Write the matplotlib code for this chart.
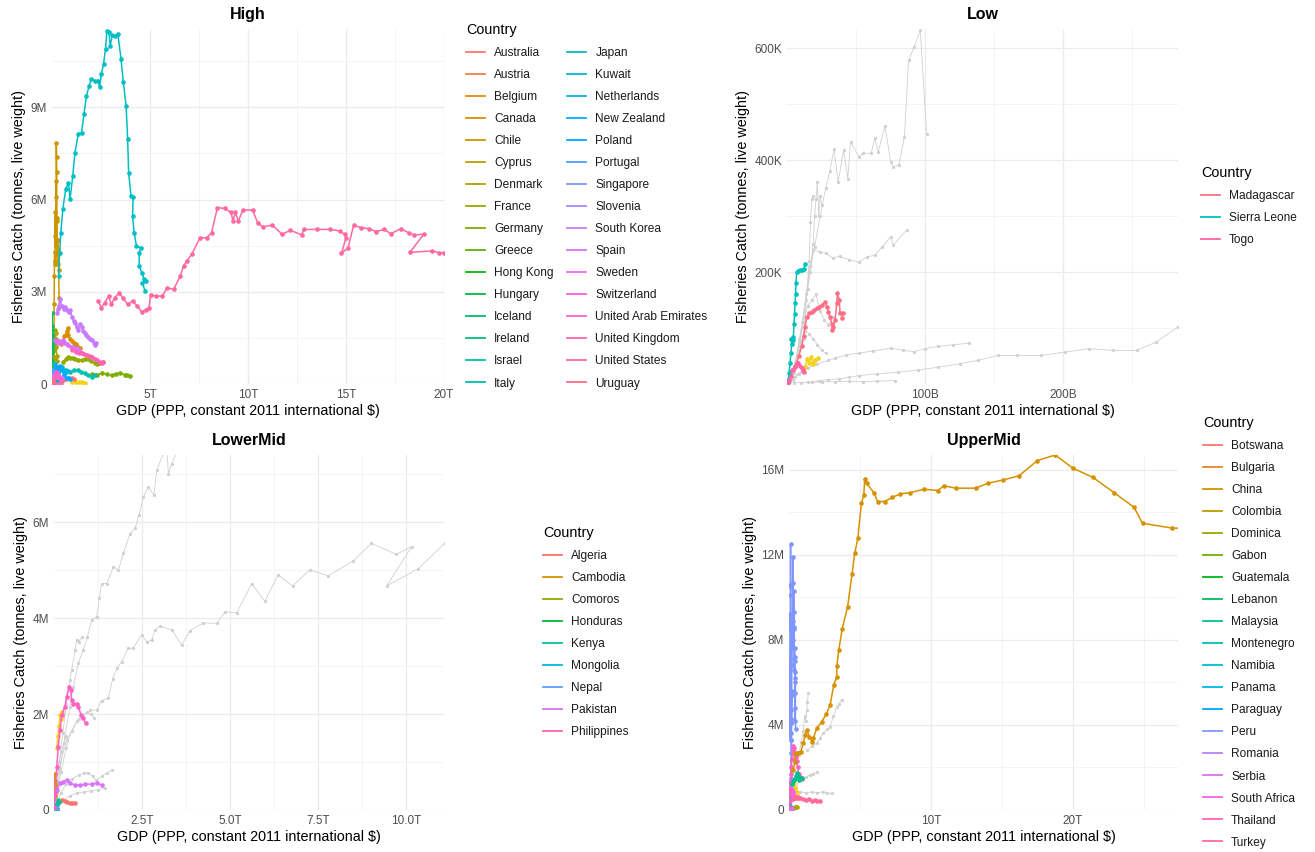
import numpy as np
import matplotlib
matplotlib.use("Agg")
import matplotlib.pyplot as plt
from matplotlib.lines import Line2D
from matplotlib.ticker import FixedLocator

plt.rcParams['font.family'] = ['Liberation Sans', 'DejaVu Sans']

# ----------------------------------------------------------------------------------
# DATA  (High / LowerMid / UpperMid: GDP in trillion $, catch in million tonnes;
#        Low: GDP in billion $, catch in thousand tonnes)
# ----------------------------------------------------------------------------------
high_countries = ["Australia", "Austria", "Belgium", "Canada", "Chile", "Cyprus", "Denmark",
                  "France", "Germany", "Greece", "Hong Kong", "Hungary", "Iceland", "Ireland",
                  "Israel", "Italy", "Japan", "Kuwait", "Netherlands", "New Zealand", "Poland",
                  "Portugal", "Singapore", "Slovenia", "South Korea", "Spain", "Sweden",
                  "Switzerland", "United Arab Emirates", "United Kingdom", "United States", "Uruguay"]

high_australia = [(0.40, 0.10), (0.55, 0.13), (0.70, 0.17), (0.85, 0.20), (1.00, 0.18), (1.10, 0.16)]
high_austria = [(0.20, 0.001), (0.40, 0.001)]
high_belgium = [(0.15, 0.05), (0.25, 0.04), (0.35, 0.03), (0.45, 0.02)]
high_canada = [(0.45, 1.30), (0.55, 1.40), (0.62, 1.55), (0.70, 1.60), (0.76, 1.72), (0.80, 1.83),
               (0.84, 1.60), (0.90, 1.45), (1.00, 1.40), (1.10, 1.35), (1.20, 1.30), (1.30, 1.25), (1.43, 1.17)]
high_chile = [(0.04, 0.40), (0.05, 0.60), (0.06, 0.90), (0.07, 1.20), (0.08, 1.10), (0.09, 0.80), (0.10, 1.30),
              (0.11, 2.60), (0.12, 3.50), (0.13, 4.30), (0.14, 4.00), (0.15, 3.90), (0.16, 4.80), (0.17, 5.60),
              (0.18, 4.50), (0.19, 5.30), (0.20, 6.60), (0.21, 6.10), (0.22, 7.85), (0.23, 7.40), (0.24, 6.90),
              (0.25, 5.40), (0.26, 5.30), (0.27, 4.20), (0.28, 3.90), (0.29, 4.70), (0.30, 3.90), (0.32, 4.40),
              (0.34, 3.70), (0.36, 2.80), (0.38, 2.50)]
high_cyprus = [(0.01, 0.001), (0.02, 0.002), (0.03, 0.002)]
high_denmark = [(0.10, 0.85), (0.12, 1.10), (0.14, 1.40), (0.16, 1.75), (0.18, 1.65), (0.20, 1.45),
                (0.22, 1.20), (0.24, 0.90), (0.26, 0.75)]
high_france = [(0.56, 0.72), (0.70, 0.80), (0.82, 0.88), (0.92, 0.86), (1.05, 0.83), (1.17, 0.81),
               (1.35, 0.79), (1.53, 0.78), (1.70, 0.80), (1.84, 0.81), (2.00, 0.74), (2.19, 0.68),
               (2.32, 0.66), (2.45, 0.68), (2.60, 0.72)]
high_germany = [(2.04, 0.33), (2.30, 0.30), (2.55, 0.36), (2.80, 0.31), (3.06, 0.29), (3.25, 0.33),
                (3.47, 0.36), (3.70, 0.30), (3.85, 0.28), (3.98, 0.26)]
high_greece = [(0.10, 0.08), (0.15, 0.10), (0.20, 0.12), (0.25, 0.13), (0.30, 0.10)]
high_hongkong = [(0.05, 0.15), (0.10, 0.17), (0.20, 0.18), (0.30, 0.16), (0.40, 0.12)]
high_hungary = [(0.10, 0.01), (0.20, 0.01)]
high_iceland = [(0.005, 0.50), (0.007, 0.75), (0.008, 1.05), (0.009, 1.25), (0.010, 1.60), (0.011, 1.45),
                (0.012, 1.30), (0.013, 1.90), (0.014, 2.30), (0.015, 1.75), (0.016, 1.30), (0.017, 1.10)]
high_ireland = [(0.05, 0.05), (0.10, 0.10), (0.15, 0.20), (0.20, 0.28), (0.25, 0.30), (0.30, 0.25)]
high_israel = [(0.05, 0.02), (0.15, 0.03), (0.25, 0.02)]
high_italy = [(0.50, 0.55), (0.70, 0.45), (0.92, 0.39), (1.10, 0.44), (1.33, 0.46), (1.50, 0.40),
              (1.68, 0.36), (1.85, 0.28), (2.04, 0.23), (2.19, 0.29)]
high_japan = [(0.34, 3.51), (0.39, 4.27), (0.45, 4.92), (0.55, 5.68), (0.70, 6.34), (0.84, 6.55), (0.92, 6.01),
              (1.06, 6.77), (1.17, 7.53), (1.34, 8.13), (1.51, 8.18), (1.63, 8.78), (1.76, 9.38), (1.90, 9.71),
              (2.01, 9.92), (2.18, 9.87), (2.35, 9.87), (2.43, 9.65), (2.52, 10.09), (2.63, 10.41), (2.73, 10.90),
              (2.80, 11.50), (2.90, 11.45), (2.97, 11.00), (3.07, 11.34), (3.19, 11.32), (3.36, 11.39),
              (3.52, 10.58), (3.64, 9.82), (3.78, 9.05), (3.86, 7.97), (3.91, 6.88), (4.03, 6.12), (4.14, 6.07),
              (4.11, 5.47), (4.19, 4.92), (4.31, 4.49), (4.53, 4.43), (4.45, 4.27), (4.45, 3.84), (4.58, 3.62),
              (4.70, 3.40), (4.78, 3.35), (4.61, 3.29), (4.75, 3.02)]
high_kuwait = [(0.05, 0.005), (0.15, 0.005)]
high_netherlands = [(0.20, 0.30), (0.30, 0.35), (0.40, 0.45), (0.50, 0.50), (0.60, 0.42), (0.70, 0.38), (0.80, 0.42)]
high_newzealand = [(0.03, 0.05), (0.06, 0.15), (0.10, 0.30), (0.13, 0.55), (0.15, 0.65), (0.17, 0.50), (0.20, 0.45)]
high_poland = [(0.20, 0.45), (0.30, 0.55), (0.40, 0.60), (0.50, 0.45), (0.60, 0.30), (0.70, 0.20),
               (0.80, 0.18), (0.90, 0.17)]
high_portugal = [(0.05, 0.45), (0.08, 0.40), (0.12, 0.35), (0.16, 0.30), (0.20, 0.25), (0.25, 0.22), (0.30, 0.20)]
high_singapore = [(0.02, 0.01), (0.10, 0.01), (0.30, 0.002)]
high_slovenia = [(0.03, 0.002), (0.06, 0.001)]
high_southkorea = [(0.25, 2.30), (0.30, 2.45), (0.35, 2.55), (0.42, 2.75), (0.50, 2.55), (0.60, 2.45),
                   (0.66, 2.52), (0.75, 2.40), (0.85, 2.35), (0.92, 2.41), (1.02, 2.19), (1.10, 2.05),
                   (1.17, 1.98), (1.25, 1.85), (1.33, 1.76), (1.43, 1.95), (1.53, 1.87), (1.60, 1.72),
                   (1.68, 1.66), (1.76, 1.60), (1.84, 1.53), (1.95, 1.48), (2.04, 1.43), (2.12, 1.35),
                   (2.19, 1.27), (2.27, 1.34)]
high_spain = [(0.15, 1.43), (0.25, 1.35), (0.35, 1.40), (0.45, 1.34), (0.56, 1.43), (0.65, 1.35), (0.75, 1.30),
              (0.82, 1.27), (0.95, 1.20), (1.07, 1.21), (1.20, 1.15), (1.33, 1.17), (1.45, 1.05)]
high_sweden = [(0.10, 0.30), (0.15, 0.32), (0.20, 0.35), (0.28, 0.28), (0.35, 0.25), (0.42, 0.20), (0.50, 0.18)]
high_switzerland = [(0.20, 0.003), (0.40, 0.002)]
high_uae = [(0.05, 0.08), (0.10, 0.20), (0.15, 0.30), (0.20, 0.40), (0.25, 0.35), (0.30, 0.25),
            (0.38, 0.20), (0.45, 0.12)]
high_uk = [(1.00, 1.10), (1.20, 1.05), (1.40, 1.02), (1.53, 1.01), (1.65, 0.97), (1.79, 0.95), (1.92, 0.90),
           (2.04, 0.88), (2.18, 0.82), (2.30, 0.78), (2.45, 0.72), (2.55, 0.68), (2.62, 0.70)]
high_us = [(2.35, 2.70), (2.52, 2.48), (2.68, 2.64), (2.90, 2.86), (3.02, 2.59), (3.19, 2.80), (3.44, 2.97),
           (3.61, 2.80), (3.86, 2.59), (4.11, 2.70), (4.36, 2.53), (4.58, 2.34), (4.78, 2.42), (4.95, 2.48),
           (5.03, 2.91), (5.29, 2.86), (5.62, 2.86), (5.87, 3.13), (6.21, 3.08), (6.54, 3.51), (6.71, 3.84),
           (6.88, 4.00), (7.13, 4.22), (7.55, 4.76), (7.89, 4.76), (8.14, 4.92), (8.44, 5.74), (8.81, 5.71),
           (9.14, 5.58), (9.23, 5.30), (9.35, 5.58), (9.51, 5.30), (9.73, 5.66), (10.23, 5.66), (10.49, 5.25),
           (10.74, 5.11), (11.24, 5.17), (11.74, 4.87), (12.16, 5.00), (12.75, 4.85), (12.84, 5.03),
           (13.50, 5.03), (14.18, 5.03), (14.68, 4.98), (14.93, 4.87), (15.00, 4.76), (14.77, 4.25),
           (15.10, 4.43), (15.39, 5.16), (15.77, 5.09), (16.19, 5.05), (16.53, 4.96), (16.95, 5.03),
           (17.28, 4.89), (17.79, 5.05), (18.20, 4.92), (18.46, 4.85), (18.96, 4.87), (18.26, 4.28),
           (19.38, 4.33), (19.77, 4.27), (20.00, 4.27)]
high_uruguay = [(0.03, 0.05), (0.05, 0.12), (0.06, 0.10), (0.07, 0.08)]
high_extra_yellow = [(1.00, 0.05), (1.20, 0.07), (1.40, 0.05), (1.55, 0.06), (1.70, 0.04)]

# ---- Low income (GDP in billion $, catch in thousand tonnes)
low_countries = ["Madagascar", "Sierra Leone", "Togo"]
low_madagascar = [(1.0, 8), (3.4, 25), (5.5, 32), (7.0, 37), (8.5, 50), (10.6, 67), (12.0, 85), (13.0, 102),
                  (14.3, 120), (16.0, 126), (17.9, 129), (19.5, 132), (21.5, 135), (23.5, 138), (25.3, 141),
                  (27.5, 147), (28.8, 138), (30.0, 128), (31.2, 120), (32.4, 108), (33.6, 102), (32.4, 96),
                  (34.8, 114), (36.0, 144), (36.5, 162), (37.9, 150), (38.4, 126), (40.4, 126), (39.6, 117)]
low_sierraleone = [(0.5, 3), (1.0, 8), (1.5, 20), (2.2, 37), (2.8, 55), (3.4, 72), (3.0, 80), (4.0, 78),
                   (4.6, 84), (5.1, 108), (5.5, 125), (5.8, 144), (6.2, 160), (6.5, 180), (7.0, 200), (8.0, 201),
                   (9.4, 203), (10.5, 203), (12.3, 205), (13.0, 215)]
low_togo = [(0.5, 2), (1.5, 8), (3.0, 15), (4.6, 25), (6.0, 30), (8.0, 37), (9.5, 33), (11.0, 28),
            (11.8, 25), (12.5, 22)]
low_extra_yellow = [(13.0, 30), (14.5, 45), (16.0, 38), (17.5, 48), (19.0, 35), (20.5, 42), (22.5, 46)]
low_gray_1 = [(8, 60), (12, 120), (16, 200), (20, 245), (24, 300), (28, 350), (31, 380), (34, 420), (37, 360),
              (41, 418), (44, 367), (46, 433), (52, 406), (55, 412), (61, 412), (63.5, 439), (66, 415), (71, 460),
              (75, 397), (77, 388), (81, 391), (85, 442), (88, 578), (92, 602), (96.5, 632), (101, 447)]
low_gray_2 = [(3, 10), (6, 40), (9, 80), (12, 120), (15, 170), (17, 210), (19, 250), (20, 300), (21, 330),
              (22, 361), (23, 300), (24, 335), (25, 320)]
low_gray_3 = [(5, 20), (8, 60), (11, 110), (14, 160), (17, 200), (19, 239), (24, 236), (28, 234), (33, 225),
              (38, 228), (45, 222), (52, 218), (58, 227), (63.5, 230), (69, 245), (75, 263), (77, 248), (86.5, 275)]
low_gray_4 = [(2, 5), (5, 12), (8.8, 18), (15, 28), (22, 36), (30, 42), (34.8, 46), (43, 52), (52, 55), (62, 59),
              (75, 64), (84, 60), (92, 58), (100, 63), (109, 67), (120, 70), (132, 73)]
low_gray_5 = [(10, 2), (18, 4), (23.3, 6), (30, 8), (37.7, 9), (45, 12), (52, 15), (65, 18), (80.7, 21), (95, 25),
              (109.4, 30), (125, 36), (138, 42), (152.4, 51), (166.8, 51), (184, 51), (201, 57), (218.6, 63),
              (235.8, 60), (253, 60), (267.4, 75), (283, 102)]
low_gray_6 = [(5, 2), (15, 3), (25, 4), (35, 4), (45, 5), (55, 4), (65, 5), (78, 6)]
low_gray_7 = [(6, 30), (9, 70), (12, 110), (15, 140), (18, 150), (21, 160), (24, 130), (27, 115), (30, 105), (33, 120)]
low_gray_8 = [(4, 20), (7, 50), (10, 75), (13, 95), (16, 90), (19, 80), (22, 70), (25, 60), (28, 55)]
low_gray_9 = [(12, 80), (14, 150), (16, 220), (17, 290), (18, 330), (19, 335)]
low_gray_10 = [(2, 3), (4, 8), (6, 12), (8, 18), (10, 22), (12, 28), (14, 30)]

# ---- Lower-middle income (GDP in trillion $, catch in million tonnes)
lm_countries = ["Algeria", "Cambodia", "Comoros", "Honduras", "Kenya", "Mongolia", "Nepal", "Pakistan",
                "Philippines"]
lm_algeria = [(0.08, 0.10), (0.15, 0.17), (0.22, 0.21), (0.30, 0.19), (0.36, 0.17), (0.45, 0.15),
              (0.50, 0.14), (0.60, 0.14)]
lm_cambodia = [(0.01, 0.10), (0.02, 0.30), (0.03, 0.55), (0.035, 0.75), (0.04, 0.60), (0.05, 0.45)]
lm_comoros = [(0.001, 0.01), (0.002, 0.02)]
lm_honduras = [(0.02, 0.01), (0.05, 0.02), (0.08, 0.03)]
lm_kenya = [(0.05, 0.08), (0.08, 0.13), (0.10, 0.20), (0.12, 0.18), (0.14, 0.16)]
lm_mongolia = [(0.01, 0.001), (0.03, 0.001)]
lm_nepal = [(0.01, 0.01), (0.04, 0.03), (0.08, 0.05)]
lm_pakistan = [(0.00, 0.20), (0.08, 0.42), (0.17, 0.56), (0.26, 0.59), (0.36, 0.63), (0.45, 0.56), (0.60, 0.52),
               (0.74, 0.52), (0.88, 0.54), (1.07, 0.54), (1.21, 0.56), (1.36, 0.52)]
lm_philippines = [(0.00, 0.07), (0.03, 0.35), (0.08, 0.90), (0.12, 1.32), (0.17, 1.67), (0.22, 1.98),
                  (0.31, 2.15), (0.36, 2.36), (0.43, 2.57), (0.48, 2.50), (0.50, 2.29), (0.55, 2.22),
                  (0.64, 2.22), (0.69, 2.15), (0.77, 1.98), (0.83, 1.91), (0.90, 1.81)]
lm_extra_yellow = [(0.08, 1.30), (0.11, 1.55), (0.14, 1.75), (0.17, 1.98), (0.20, 1.90), (0.22, 2.05)]
lm_gray_a = [(0.03, 0.28), (0.12, 0.83), (0.36, 1.46), (0.70, 1.90), (1.03, 2.08), (1.21, 2.08), (1.35, 2.28),
             (1.54, 2.33), (1.67, 2.74), (1.78, 2.95), (1.92, 3.09), (2.11, 3.37), (2.25, 3.37), (2.49, 3.65),
             (2.64, 3.51), (2.78, 3.54), (2.87, 3.76), (3.01, 3.83), (3.34, 3.76), (3.63, 3.44), (3.86, 3.74),
             (4.24, 3.90), (4.62, 3.89), (4.86, 4.13), (5.19, 4.11), (5.62, 4.72), (5.99, 4.35), (6.37, 4.90),
             (6.78, 4.67), (7.27, 5.01), (7.79, 4.88), (8.50, 5.19), (9.02, 5.56), (9.72, 5.33), (10.16, 5.49),
             (9.45, 4.67), (10.35, 5.03), (11.10, 5.56)]
lm_gray_b = [(0.08, 0.35), (0.17, 0.83), (0.31, 1.53), (0.45, 2.15), (0.55, 2.57), (0.69, 3.06), (0.83, 3.33),
             (0.95, 3.61), (1.07, 3.96), (1.21, 4.03), (1.29, 4.41), (1.35, 4.72), (1.50, 4.72), (1.69, 5.07),
             (1.83, 5.00), (1.97, 5.35), (2.16, 5.76), (2.30, 5.87), (2.42, 6.15), (2.54, 6.53), (2.68, 6.73),
             (2.84, 6.56), (2.92, 7.08), (3.12, 7.45), (3.20, 7.60), (3.25, 7.01), (3.34, 7.22), (3.58, 7.60)]
lm_gray_d = [(0.05, 0.40), (0.15, 1.00), (0.25, 1.60), (0.35, 2.20), (0.45, 2.70), (0.50, 2.92), (0.60, 3.33),
             (0.64, 3.54), (0.70, 3.50), (0.79, 3.60)]
lm_gray_e = [(0.05, 0.30), (0.20, 0.80), (0.35, 1.30), (0.50, 1.65), (0.65, 1.85), (0.80, 1.95), (0.95, 2.05),
             (1.05, 2.00), (1.15, 1.92)]
lm_gray_f = [(0.05, 0.10), (0.20, 0.35), (0.35, 0.55), (0.50, 0.65), (0.70, 0.72), (0.85, 0.78), (0.97, 0.77),
             (1.10, 0.70), (1.20, 0.62), (1.35, 0.70), (1.50, 0.77), (1.64, 0.83)]
lm_gray_g = [(0.05, 0.05), (0.25, 0.20), (0.45, 0.30), (0.65, 0.35), (0.85, 0.38), (1.05, 0.40), (1.25, 0.42),
             (1.45, 0.46)]
lm_gray_h = [(0.05, 0.20), (0.10, 0.60), (0.15, 1.00), (0.20, 1.20), (0.28, 1.40), (0.35, 1.55)]

# ---- Upper-middle income (GDP in trillion $, catch in million tonnes)
um_countries = ["Botswana", "Bulgaria", "China", "Colombia", "Dominica", "Gabon", "Guatemala", "Lebanon",
                "Malaysia", "Montenegro", "Namibia", "Panama", "Paraguay", "Peru", "Romania", "Serbia",
                "South Africa", "Thailand", "Turkey"]
um_botswana = [(0.02, 0.002), (0.05, 0.003)]
um_bulgaria = [(0.05, 0.10), (0.08, 0.15), (0.10, 0.08)]
um_china = [(0.30, 1.90), (0.42, 2.26), (0.42, 2.64), (0.55, 2.70), (0.66, 2.67), (0.83, 2.75), (1.00, 3.14),
            (1.13, 3.53), (1.25, 3.76), (1.43, 3.45), (1.60, 3.22), (1.71, 3.37), (1.95, 3.84), (2.30, 4.15),
            (2.62, 4.50), (2.90, 4.94), (3.15, 5.88), (3.37, 6.27), (3.37, 6.78), (3.51, 7.53), (3.74, 8.50),
            (4.13, 9.57), (4.44, 11.10), (4.63, 12.08), (4.85, 12.79), (5.10, 14.43), (5.27, 14.82),
            (5.33, 15.56), (5.47, 15.37), (5.97, 14.93), (6.25, 14.51), (6.73, 14.51), (7.29, 14.71),
            (7.85, 14.87), (8.54, 14.93), (9.52, 15.09), (10.50, 15.03), (10.90, 15.25), (11.76, 15.14),
            (13.15, 15.14), (14.00, 15.37), (15.10, 15.53), (16.20, 15.72), (17.50, 16.44), (18.75, 16.70),
            (20.00, 16.08), (21.40, 15.65), (22.90, 14.93), (24.30, 14.24), (24.90, 13.49), (27.00, 13.26),
            (27.60, 13.26)]
um_colombia = [(0.20, 0.05), (0.30, 0.08), (0.40, 0.12), (0.50, 0.15), (0.55, 0.13)]
um_dominica = [(0.001, 0.001), (0.002, 0.001)]
um_gabon = [(0.02, 0.02), (0.03, 0.03)]
um_guatemala = [(0.03, 0.01), (0.06, 0.02)]
um_lebanon = [(0.02, 0.003), (0.05, 0.004)]
um_malaysia = [(0.20, 1.20), (0.30, 1.35), (0.40, 1.45), (0.50, 1.60), (0.58, 1.74), (0.65, 1.60),
               (0.72, 1.40), (0.80, 1.45), (0.90, 1.50)]
um_montenegro = [(0.005, 0.001), (0.008, 0.001)]
um_namibia = [(0.01, 0.30), (0.02, 0.60), (0.02, 0.40), (0.03, 0.55)]
um_panama = [(0.02, 0.10), (0.04, 0.20), (0.06, 0.15)]
um_paraguay = [(0.02, 0.01), (0.05, 0.02)]
um_peru = [(0.02, 3.5), (0.04, 5.2), (0.05, 6.9), (0.06, 7.1), (0.07, 9.2), (0.08, 9.0), (0.09, 8.5),
           (0.10, 10.1), (0.10, 10.6), (0.11, 12.5), (0.12, 10.5), (0.13, 4.7), (0.13, 4.1), (0.14, 3.3),
           (0.15, 4.3), (0.15, 3.6), (0.16, 4.3), (0.17, 2.7), (0.16, 1.5), (0.17, 3.3), (0.18, 5.4),
           (0.17, 4.1), (0.19, 5.6), (0.20, 6.8), (0.21, 6.8), (0.22, 8.4), (0.24, 9.0), (0.25, 8.9),
           (0.27, 11.9), (0.28, 10.7), (0.29, 8.0), (0.31, 7.6), (0.32, 8.5), (0.33, 10.3), (0.35, 8.6),
           (0.36, 9.3), (0.38, 6.6), (0.39, 7.6), (0.39, 7.0), (0.41, 7.2), (0.42, 5.5), (0.42, 4.2),
           (0.43, 6.2), (0.44, 6.5), (0.45, 6.0), (0.45, 4.8), (0.46, 3.8)]
um_romania = [(0.05, 0.02), (0.10, 0.08), (0.15, 0.10), (0.20, 0.05)]
um_serbia = [(0.05, 0.003), (0.08, 0.004)]
um_southafrica = [(0.10, 0.90), (0.12, 1.20), (0.15, 1.05), (0.18, 0.80), (0.20, 0.70), (0.22, 0.95),
                  (0.25, 0.85), (0.28, 0.70), (0.30, 0.65), (0.35, 0.60), (0.40, 0.55), (0.45, 0.60),
                  (0.50, 0.55), (0.55, 0.60), (0.60, 0.62)]
um_thailand = [(0.02, 0.15), (0.04, 0.40), (0.06, 0.90), (0.09, 1.30), (0.12, 1.70), (0.16, 2.00), (0.20, 2.40),
               (0.25, 2.80), (0.30, 3.00), (0.33, 2.90), (0.38, 2.75), (0.45, 2.60), (0.50, 2.50), (0.55, 2.30),
               (0.60, 2.00), (0.70, 1.70), (0.80, 1.55), (0.90, 1.45)]
um_turkey = [(0.30, 0.50), (0.45, 0.62), (0.60, 0.58), (0.80, 0.55), (1.00, 0.52), (1.20, 0.48), (1.40, 0.50),
             (1.60, 0.42), (1.80, 0.45), (2.00, 0.40), (2.20, 0.40)]
um_extra_yellow = [(0.35, 1.25), (0.40, 1.05), (0.45, 0.95), (0.50, 0.85), (0.55, 0.80)]
um_gray_1 = [(0.70, 2.60), (0.85, 3.20), (1.00, 3.70), (1.10, 4.40), (1.18, 4.20), (1.25, 4.70), (1.30, 5.10),
             (1.36, 5.50)]
um_gray_2 = [(1.30, 2.80), (1.60, 3.00), (1.95, 3.14), (2.20, 3.40), (2.42, 3.60), (2.65, 3.80), (2.89, 3.90),
             (3.12, 4.40), (3.36, 4.86), (3.55, 5.00), (3.71, 5.18)]
um_gray_3 = [(0.50, 1.10), (0.77, 1.41), (1.00, 1.50), (1.20, 1.55), (1.45, 1.65), (1.70, 1.70), (1.95, 1.80)]
um_gray_4 = [(0.40, 0.90), (0.77, 0.86), (1.20, 0.80), (1.60, 0.85), (2.00, 0.82), (2.40, 0.85), (2.70, 0.80),
             (3.00, 0.78)]

# tick labels
high_xticks = [5, 10, 15, 20];          high_xlabels = ["5T", "10T", "15T", "20T"]
high_yticks = [0, 3, 6, 9];             high_ylabels = ["0", "3M", "6M", "9M"]
low_xticks = [100, 200];                low_xlabels = ["100B", "200B"]
low_yticks = [200, 400, 600];           low_ylabels = ["200K", "400K", "600K"]
lm_xticks = [2.5, 5.0, 7.5, 10.0];      lm_xlabels = ["2.5T", "5.0T", "7.5T", "10.0T"]
lm_yticks = [0, 2, 4, 6];               lm_ylabels = ["0", "2M", "4M", "6M"]
um_xticks = [10, 20];                   um_xlabels = ["10T", "20T"]
um_yticks = [0, 4, 8, 12, 16];          um_ylabels = ["0", "4M", "8M", "12M", "16M"]

# ----------------------------------------------------------------------------------
def hcl_hex(h, c=100.0, l=65.0):
    hr = np.deg2rad(h)
    u, v = c * np.cos(hr), c * np.sin(hr)
    Xn, Yn, Zn = 95.047, 100.0, 108.883
    den = Xn + 15 * Yn + 3 * Zn
    un, vn = 4 * Xn / den, 9 * Yn / den
    Y = Yn * ((l + 16) / 116) ** 3
    up, vp = u / (13 * l) + un, v / (13 * l) + vn
    X = 9 * Y * up / (4 * vp)
    Z = Y * (12 - 3 * up - 20 * vp) / (4 * vp)
    M = np.array([[3.240479, -1.537150, -0.498535],
                  [-0.969256, 1.875992, 0.041556],
                  [0.055648, -0.204043, 1.057311]])
    rgb = M @ (np.array([X, Y, Z]) / 100.0)
    rgb = np.where(rgb <= 0.0031308, 12.92 * rgb, 1.055 * np.abs(rgb) ** (1 / 2.4) - 0.055)
    rgb = np.clip(rgb, 0, 1)
    return matplotlib.colors.to_hex(rgb)


def hue_pal(n, start=15.0):
    return [hcl_hex(start + i * 360.0 / n) for i in range(n)]


GRAY = "#D0D0D0"
YELLOW = "#F2D21B"
W, H = 1315, 852
fig = plt.figure(figsize=(W / 100, H / 100), dpi=100)
fig.patch.set_facecolor("white")

TICK_FS = 8.5
AXT_FS = 10.4
TITLE_FS = 11.5
LEG_FS = 8.6
LEGT_FS = 10.4


def make_ax(px_left, px_top, px_right, px_bottom):
    return fig.add_axes([px_left / W, 1 - px_bottom / H, (px_right - px_left) / W, (px_bottom - px_top) / H])


def style_ax(ax, title, xt, xl, yt, yl, xminor, yminor, xlim, ylim, xs, ys):
    ax.set_xlim(xlim[0] * xs, xlim[1] * xs)
    ax.set_ylim(ylim[0] * ys, ylim[1] * ys)
    ax.xaxis.set_major_locator(FixedLocator([v * xs for v in xt]))
    ax.set_xticklabels(xl)
    ax.yaxis.set_major_locator(FixedLocator([v * ys for v in yt]))
    ax.set_yticklabels(yl)
    ax.xaxis.set_minor_locator(FixedLocator([v * xs for v in xminor]))
    ax.yaxis.set_minor_locator(FixedLocator([v * ys for v in yminor]))
    ax.grid(True, which="major", color="#EBEBEB", lw=0.9, zorder=0)
    ax.grid(True, which="minor", color="#F0F0F0", lw=0.5, zorder=0)
    ax.set_axisbelow(True)
    for s in ax.spines.values():
        s.set_visible(False)
    ax.tick_params(which="both", length=0, labelsize=TICK_FS, labelcolor="#4D4D4D", pad=3.5)
    ax.set_xlabel("GDP (PPP, constant 2011 international $)", fontsize=AXT_FS, labelpad=2, color="black")
    ax.set_ylabel("Fisheries Catch (tonnes, live weight)", fontsize=AXT_FS, labelpad=3, color="black")
    ax.set_title(title, fontsize=TITLE_FS, fontweight="bold", pad=7)


def draw(ax, data, color, xs, ys, gray=False):
    arr = np.array(data, dtype=float)
    if gray:
        ax.plot(arr[:, 0] * xs, arr[:, 1] * ys, color=GRAY, lw=0.6, marker="o", ms=1.3,
                mec=GRAY, mfc=GRAY, zorder=2)
    else:
        ax.plot(arr[:, 0] * xs, arr[:, 1] * ys, color=color, lw=1.1, marker="o", ms=2.3,
                mec=color, mfc=color, zorder=3, solid_joinstyle="round")


def add_legend(names, colors, x_px, y_px, ncol=1):
    handles = [Line2D([], [], color=c, lw=1.3) for c in colors]
    leg = fig.legend(handles, names, loc="upper left", bbox_to_anchor=(x_px / W, 1 - y_px / H),
                     ncol=ncol, frameon=False, fontsize=LEG_FS, title="Country",
                     title_fontsize=LEGT_FS, alignment="left", handlelength=1.6,
                     handletextpad=0.75, labelspacing=0.84, columnspacing=1.15, borderpad=0,
                     borderaxespad=0)
    for t in leg.get_texts():
        t.set_color("#1A1A1A")
    return leg


# ---------------- High ----------------
T, M, B, K = 1e12, 1e6, 1e9, 1e3
ax1 = make_ax(52, 29, 444, 384)
high_series = [high_australia, high_austria, high_belgium, high_canada, high_chile, high_cyprus, high_denmark,
               high_france, high_germany, high_greece, high_hongkong, high_hungary, high_iceland, high_ireland,
               high_israel, high_italy, high_japan, high_kuwait, high_netherlands, high_newzealand, high_poland,
               high_portugal, high_singapore, high_slovenia, high_southkorea, high_spain, high_sweden,
               high_switzerland, high_uae, high_uk, high_us, high_uruguay]
high_cols = hue_pal(len(high_countries))
draw(ax1, high_extra_yellow, YELLOW, T, M)
for s, c in zip(high_series, high_cols):
    draw(ax1, s, c, T, M)
style_ax(ax1, "High", high_xticks, high_xlabels, high_yticks, high_ylabels,
         [2.5, 7.5, 12.5, 17.5], [1.5, 4.5, 7.5, 10.5], (0, 20.0), (0, 11.55), T, M)
add_legend(high_countries, high_cols, 466, 23, ncol=2)

# ---------------- Low ----------------
ax2 = make_ax(787, 29, 1178, 384)
for g in [low_gray_1, low_gray_2, low_gray_3, low_gray_4, low_gray_5, low_gray_6, low_gray_7, low_gray_8,
          low_gray_9, low_gray_10]:
    draw(ax2, g, GRAY, B, K, gray=True)
low_cols = [hcl_hex(5), hcl_hex(190), hcl_hex(350)]
draw(ax2, low_extra_yellow, YELLOW, B, K)
for s, c in zip([low_madagascar, low_sierraleone, low_togo], low_cols):
    draw(ax2, s, c, B, K)
style_ax(ax2, "Low", low_xticks, low_xlabels, low_yticks, low_ylabels,
         [50, 150, 250], [100, 300, 500], (0, 283), (0, 634), B, K)
add_legend(low_countries, low_cols, 1201, 166)

# ---------------- LowerMid ----------------
ax3 = make_ax(54, 455, 444, 810)
for g in [lm_gray_a, lm_gray_b, lm_gray_d, lm_gray_e, lm_gray_f, lm_gray_g, lm_gray_h]:
    draw(ax3, g, GRAY, T, M, gray=True)
lm_series = [lm_algeria, lm_cambodia, lm_comoros, lm_honduras, lm_kenya, lm_mongolia, lm_nepal, lm_pakistan,
             lm_philippines]
lm_cols = hue_pal(len(lm_countries))
draw(ax3, lm_extra_yellow, YELLOW, T, M)
for s, c in zip(lm_series, lm_cols):
    draw(ax3, s, c, T, M)
style_ax(ax3, "LowerMid", lm_xticks, lm_xlabels, lm_yticks, lm_ylabels,
         [1.25, 3.75, 6.25, 8.75], [1, 3, 5, 7], (0, 11.08), (0, 7.4), T, M)
add_legend(lm_countries, lm_cols, 543, 526)

# ---------------- UpperMid ----------------
ax4 = make_ax(789, 455, 1178, 810)
for g in [um_gray_1, um_gray_2, um_gray_3, um_gray_4]:
    draw(ax4, g, GRAY, T, M, gray=True)
um_series = [um_botswana, um_bulgaria, um_china, um_colombia, um_dominica, um_gabon, um_guatemala, um_lebanon,
             um_malaysia, um_montenegro, um_namibia, um_panama, um_paraguay, um_peru, um_romania, um_serbia,
             um_southafrica, um_thailand, um_turkey]
um_cols = hue_pal(len(um_countries))
draw(ax4, um_extra_yellow, YELLOW, T, M)
order = [13, 0, 1, 3, 4, 5, 6, 7, 9, 10, 11, 12, 14, 15, 16, 17, 8, 18, 2]
for i in order:
    draw(ax4, um_series[i], um_cols[i], T, M)
style_ax(ax4, "UpperMid", um_xticks, um_xlabels, um_yticks, um_ylabels,
         [5, 15, 25], [2, 6, 10, 14], (0, 27.4), (0, 16.7), T, M)
add_legend(um_countries, um_cols, 1203, 416)

fig.savefig("out.png", dpi=100, facecolor="white")
